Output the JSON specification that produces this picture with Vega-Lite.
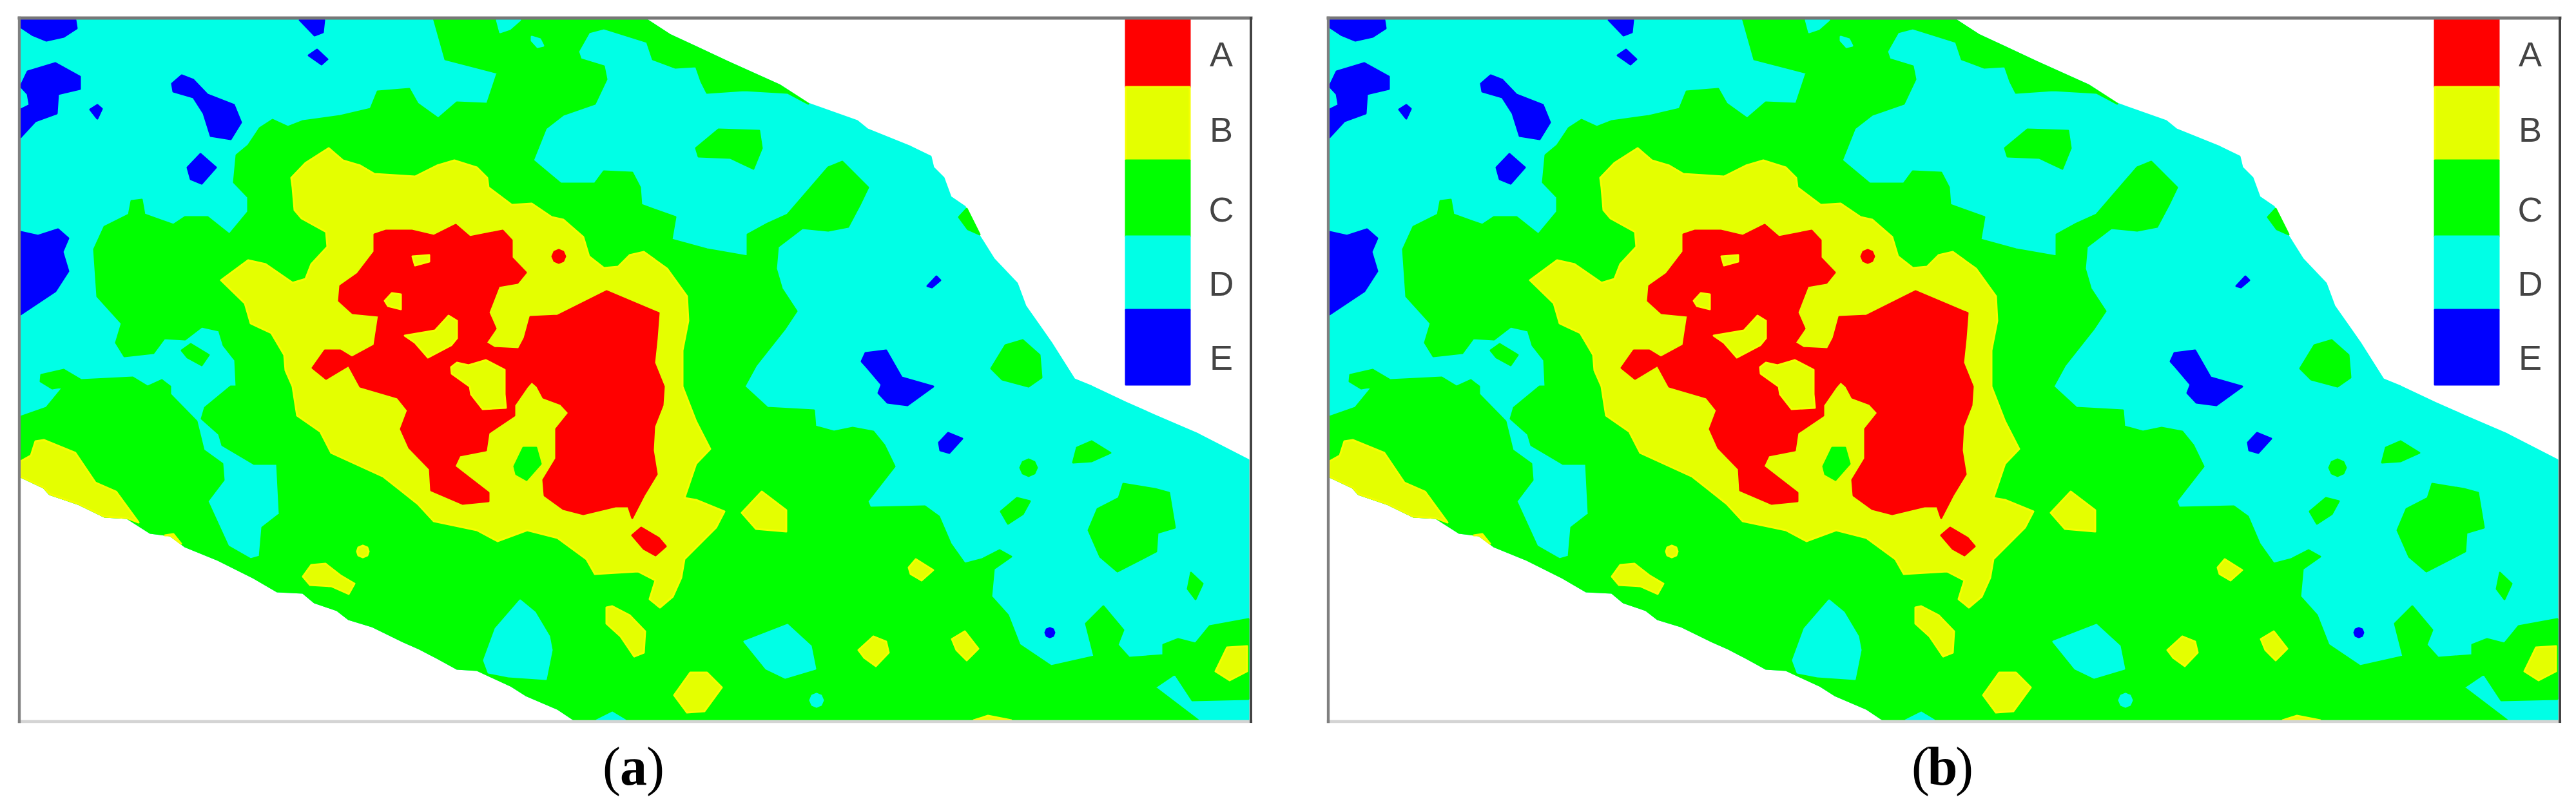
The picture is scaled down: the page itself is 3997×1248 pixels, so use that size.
{"$schema":"https://vega.github.io/schema/vega-lite/v6.json","background":"white","padding":0,"spacing":63,"config":{"view":{"stroke":null}},
"datasets":{
"extent":[{"type":"Feature","properties":{"cls":"outside"},"geometry":{"type":"Polygon","coordinates":[[[0,0],[1967,0],[1967,1248],[0,1248],[0,0]]]}}],
"regions":[
{"type":"Feature","properties":{"cls":"D"},"geometry":{"type":"Polygon","coordinates":[[[31,28],[998,28],[1038,54],[1079,73],[1128,96],[1208,132],[1253,161],[1329,188],[1345,201],[1412,228],[1443,243],[1447,260],[1463,276],[1474,306],[1496,321],[1519,367],[1541,402],[1577,440],[1590,475],[1630,532],[1666,589],[1693,600],[1746,625],[1791,645],[1858,674],[1936,714],[1936,1118],[891,1118],[864,1100],[815,1079],[793,1065],[739,1040],[708,1038],[677,1021],[650,1007],[625,996],[576,972],[540,961],[522,947],[487,935],[469,920],[429,918],[393,897],[335,868],[286,848],[263,831],[232,827],[196,804],[161,802],[120,782],[76,767],[67,757],[31,740],[31,28]]]}},
{"type":"Feature","properties":{"cls":"C"},"geometry":{"type":"Polygon","coordinates":[[[672,28],[998,28],[1038,54],[1079,73],[1128,96],[1208,132],[1253,161],[1221,144],[1154,140],[1096,144],[1087,126],[1079,103],[1047,105],[1012,92],[1003,65],[936,44],[913,50],[896,80],[900,92],[936,103],[940,123],[922,161],[873,178],[846,199],[826,249],[869,285],[922,285],[936,266],[980,268],[992,291],[994,318],[1047,337],[1041,372],[1096,387],[1159,398],[1159,364],[1190,347],[1221,333],[1284,260],[1306,251],[1346,291],[1333,318],[1315,352],[1284,358],[1244,354],[1206,383],[1203,417],[1212,448],[1235,483],[1217,510],[1172,567],[1154,600],[1190,633],[1262,637],[1264,662],[1293,670],[1322,664],[1354,670],[1371,691],[1387,724],[1345,778],[1349,788],[1434,786],[1456,802],[1474,844],[1496,875],[1523,868],[1550,854],[1568,864],[1541,883],[1537,926],[1563,955],[1581,1001],[1630,1034],[1697,1019],[1684,968],[1711,941],[1742,978],[1733,1001],[1751,1021],[1804,1017],[1804,1001],[1827,992],[1854,999],[1876,972],[1936,961],[1936,1085],[1849,1087],[1822,1046],[1791,1067],[1858,1118],[891,1118],[864,1100],[815,1079],[793,1065],[739,1040],[708,1038],[677,1021],[650,1007],[625,996],[576,972],[540,961],[522,947],[487,935],[469,920],[429,918],[393,897],[335,868],[286,848],[263,831],[232,827],[196,804],[161,802],[120,782],[76,767],[67,757],[31,740],[31,647],[71,633],[98,600],[80,603],[62,592],[63,582],[98,574],[125,590],[205,586],[228,600],[250,590],[263,600],[263,612],[304,654],[315,699],[344,720],[346,745],[321,778],[353,848],[388,868],[402,864],[406,819],[433,798],[429,720],[393,720],[344,691],[339,674],[312,650],[317,633],[357,600],[366,600],[364,559],[346,536],[339,513],[312,507],[286,527],[254,525],[237,548],[192,553],[179,532],[188,502],[150,460],[145,387],[161,352],[199,333],[203,312],[219,310],[223,333],[268,349],[286,337],[321,337],[355,364],[384,329],[384,306],[362,283],[366,241],[384,226],[402,199],[422,186],[446,197],[469,188],[527,180],[574,169],[585,142],[634,138],[647,161],[679,184],[708,159],[755,161],[771,113],[690,92],[672,28]]]}},
{"type":"Feature","properties":{"cls":"C"},"geometry":{"type":"Polygon","coordinates":[[[281,544],[295,534],[323,551],[312,567],[290,555],[281,544]]]}},
{"type":"Feature","properties":{"cls":"C"},"geometry":{"type":"Polygon","coordinates":[[[1079,230],[1114,201],[1177,203],[1181,230],[1168,262],[1132,245],[1083,243],[1079,230]]]}},
{"type":"Feature","properties":{"cls":"C"},"geometry":{"type":"Polygon","coordinates":[[[1487,337],[1499,324],[1519,364],[1501,356],[1487,337]]]}},
{"type":"Feature","properties":{"cls":"C"},"geometry":{"type":"Polygon","coordinates":[[[1537,572],[1559,536],[1586,528],[1612,551],[1615,586],[1595,600],[1554,589],[1537,572]]]}},
{"type":"Feature","properties":{"cls":"C"},"geometry":{"type":"Polygon","coordinates":[[[1664,718],[1670,695],[1693,685],[1722,703],[1693,716],[1664,718]]]}},
{"type":"Feature","properties":{"cls":"C"},"geometry":{"type":"Polygon","coordinates":[[[1595,713],[1604,717],[1608,726],[1604,735],[1595,739],[1586,735],[1582,726],[1586,717],[1595,713]]]}},
{"type":"Feature","properties":{"cls":"C"},"geometry":{"type":"Polygon","coordinates":[[[1552,794],[1577,773],[1597,778],[1586,798],[1563,813],[1552,794]]]}},
{"type":"Feature","properties":{"cls":"C"},"geometry":{"type":"Polygon","coordinates":[[[1688,823],[1702,790],[1735,773],[1742,751],[1791,759],[1813,765],[1822,819],[1795,827],[1793,856],[1733,887],[1706,864],[1688,823]]]}},
{"type":"Feature","properties":{"cls":"C"},"geometry":{"type":"Polygon","coordinates":[[[1847,889],[1865,906],[1854,930],[1842,914],[1847,889]]]}},
{"type":"Feature","properties":{"cls":"D"},"geometry":{"type":"Polygon","coordinates":[[[770,31],[806,31],[790,45],[775,50],[770,31]]]}},
{"type":"Feature","properties":{"cls":"D"},"geometry":{"type":"Polygon","coordinates":[[[824,57],[837,61],[842,71],[833,73],[824,63],[824,57]]]}},
{"type":"Feature","properties":{"cls":"D"},"geometry":{"type":"Polygon","coordinates":[[[806,932],[829,951],[851,988],[855,1009],[846,1054],[788,1050],[757,1044],[750,1025],[768,976],[806,932]]]}},
{"type":"Feature","properties":{"cls":"D"},"geometry":{"type":"Polygon","coordinates":[[[1154,996],[1221,970],[1257,1003],[1264,1038],[1217,1052],[1188,1038],[1154,996]]]}},
{"type":"Feature","properties":{"cls":"D"},"geometry":{"type":"Polygon","coordinates":[[[1266,1077],[1273,1080],[1276,1087],[1273,1094],[1266,1097],[1259,1094],[1256,1087],[1259,1080],[1266,1077]]]}},
{"type":"Feature","properties":{"cls":"D"},"geometry":{"type":"Polygon","coordinates":[[[925,1118],[949,1106],[969,1118],[925,1118]]]}},
{"type":"Feature","properties":{"cls":"E"},"geometry":{"type":"Polygon","coordinates":[[[31,31],[116,31],[118,44],[98,57],[71,63],[49,54],[31,42],[31,31]]]}},
{"type":"Feature","properties":{"cls":"E"},"geometry":{"type":"Polygon","coordinates":[[[42,111],[85,98],[123,119],[123,138],[89,146],[87,176],[54,188],[31,213],[31,170],[45,163],[42,146],[31,134],[42,111]]]}},
{"type":"Feature","properties":{"cls":"E"},"geometry":{"type":"Polygon","coordinates":[[[139,170],[150,163],[157,169],[150,184],[139,170]]]}},
{"type":"Feature","properties":{"cls":"E"},"geometry":{"type":"Polygon","coordinates":[[[266,130],[281,117],[299,124],[321,147],[362,163],[373,190],[357,216],[326,211],[315,176],[299,151],[268,142],[266,130]]]}},
{"type":"Feature","properties":{"cls":"E"},"geometry":{"type":"Polygon","coordinates":[[[290,260],[310,239],[334,260],[312,285],[295,278],[290,260]]]}},
{"type":"Feature","properties":{"cls":"E"},"geometry":{"type":"Polygon","coordinates":[[[464,31],[502,31],[500,50],[487,55],[464,31]]]}},
{"type":"Feature","properties":{"cls":"E"},"geometry":{"type":"Polygon","coordinates":[[[478,86],[491,77],[507,92],[498,100],[478,86]]]}},
{"type":"Feature","properties":{"cls":"E"},"geometry":{"type":"Polygon","coordinates":[[[31,360],[58,366],[89,356],[105,370],[96,391],[105,421],[85,452],[31,488],[31,360]]]}},
{"type":"Feature","properties":{"cls":"E"},"geometry":{"type":"Polygon","coordinates":[[[1438,444],[1452,429],[1458,435],[1445,446],[1438,444]]]}},
{"type":"Feature","properties":{"cls":"E"},"geometry":{"type":"Polygon","coordinates":[[[1336,561],[1342,548],[1374,544],[1398,586],[1447,600],[1407,629],[1376,625],[1362,610],[1367,597],[1345,571],[1336,561]]]}},
{"type":"Feature","properties":{"cls":"E"},"geometry":{"type":"Polygon","coordinates":[[[1456,687],[1470,672],[1492,681],[1472,703],[1458,699],[1456,687]]]}},
{"type":"Feature","properties":{"cls":"E"},"geometry":{"type":"Polygon","coordinates":[[[1628,975],[1633,977],[1635,982],[1633,987],[1628,989],[1623,987],[1621,982],[1623,977],[1628,975]]]}},
{"type":"Feature","properties":{"cls":"B"},"geometry":{"type":"Polygon","coordinates":[[[509,230],[531,249],[558,257],[580,270],[643,274],[677,257],[704,249],[739,260],[755,276],[757,291],[793,318],[824,316],[855,337],[873,341],[904,368],[913,398],[936,416],[958,414],[976,396],[998,391],[1034,417],[1065,460],[1067,498],[1058,544],[1058,600],[1079,654],[1101,697],[1079,720],[1061,773],[1079,776],[1123,794],[1110,819],[1061,868],[1056,897],[1043,926],[1023,943],[1007,930],[1016,901],[989,887],[922,891],[909,868],[864,835],[817,823],[771,840],[739,823],[672,809],[647,782],[594,740],[513,703],[496,670],[460,645],[453,600],[442,575],[440,551],[420,517],[388,502],[379,471],[342,435],[384,404],[411,410],[453,439],[473,433],[482,410],[507,383],[505,360],[467,339],[456,326],[453,291],[451,276],[473,253],[509,230]]]}},
{"type":"Feature","properties":{"cls":"C"},"geometry":{"type":"Polygon","coordinates":[[[797,724],[811,695],[831,695],[838,720],[816,745],[800,736],[797,724]]]}},
{"type":"Feature","properties":{"cls":"B"},"geometry":{"type":"Polygon","coordinates":[[[31,716],[47,707],[54,685],[67,683],[116,703],[147,749],[179,763],[214,811],[196,804],[161,802],[120,782],[76,767],[67,757],[31,740],[31,716]]]}},
{"type":"Feature","properties":{"cls":"B"},"geometry":{"type":"Polygon","coordinates":[[[255,831],[268,829],[280,844],[263,831],[255,831]]]}},
{"type":"Feature","properties":{"cls":"B"},"geometry":{"type":"Polygon","coordinates":[[[562,847],[569,850],[571,856],[569,862],[562,865],[555,862],[553,856],[555,850],[562,847]]]}},
{"type":"Feature","properties":{"cls":"B"},"geometry":{"type":"Polygon","coordinates":[[[469,895],[482,877],[504,875],[527,893],[549,906],[540,922],[513,910],[480,908],[469,895]]]}},
{"type":"Feature","properties":{"cls":"B"},"geometry":{"type":"Polygon","coordinates":[[[940,943],[949,941],[976,955],[1000,980],[998,1013],[983,1019],[962,988],[940,968],[940,943]]]}},
{"type":"Feature","properties":{"cls":"B"},"geometry":{"type":"Polygon","coordinates":[[[1045,1079],[1070,1044],[1096,1044],[1119,1067],[1092,1104],[1065,1106],[1045,1079]]]}},
{"type":"Feature","properties":{"cls":"B"},"geometry":{"type":"Polygon","coordinates":[[[1150,796],[1181,763],[1219,792],[1219,825],[1172,821],[1150,796]]]}},
{"type":"Feature","properties":{"cls":"B"},"geometry":{"type":"Polygon","coordinates":[[[1331,1009],[1354,988],[1374,996],[1378,1013],[1358,1034],[1340,1021],[1331,1009]]]}},
{"type":"Feature","properties":{"cls":"B"},"geometry":{"type":"Polygon","coordinates":[[[1476,992],[1496,980],[1517,1007],[1499,1025],[1483,1009],[1476,992]]]}},
{"type":"Feature","properties":{"cls":"B"},"geometry":{"type":"Polygon","coordinates":[[[1409,881],[1420,868],[1447,885],[1429,901],[1412,891],[1409,881]]]}},
{"type":"Feature","properties":{"cls":"B"},"geometry":{"type":"Polygon","coordinates":[[[1885,1042],[1903,1005],[1934,1003],[1934,1042],[1907,1056],[1885,1042]]]}},
{"type":"Feature","properties":{"cls":"B"},"geometry":{"type":"Polygon","coordinates":[[[1510,1118],[1532,1111],[1568,1118],[1510,1118]]]}},
{"type":"Feature","properties":{"cls":"A"},"geometry":{"type":"Polygon","coordinates":[[[580,364],[598,358],[638,358],[672,366],[706,349],[728,368],[779,358],[793,373],[793,400],[815,423],[802,439],[773,444],[757,485],[768,510],[753,532],[766,540],[804,542],[813,525],[822,492],[864,490],[940,452],[985,471],[1021,486],[1018,525],[1014,563],[1029,600],[1027,629],[1014,662],[1012,699],[1018,736],[998,769],[980,804],[974,786],[954,786],[904,798],[873,790],[844,769],[842,745],[862,712],[862,666],[882,641],[869,627],[842,617],[833,600],[824,592],[817,600],[797,629],[797,645],[757,672],[753,699],[712,707],[704,724],[757,765],[757,778],[717,782],[668,761],[666,728],[634,695],[621,666],[632,637],[616,617],[558,600],[540,567],[505,588],[484,571],[503,544],[527,544],[545,555],[580,536],[587,490],[546,486],[525,467],[527,444],[554,425],[580,391],[580,364]]]}},
{"type":"Feature","properties":{"cls":"B"},"geometry":{"type":"Polygon","coordinates":[[[627,521],[674,513],[695,490],[708,498],[708,525],[699,536],[663,555],[643,532],[627,521]]]}},
{"type":"Feature","properties":{"cls":"B"},"geometry":{"type":"Polygon","coordinates":[[[639,398],[665,396],[665,406],[643,412],[639,398]]]}},
{"type":"Feature","properties":{"cls":"B"},"geometry":{"type":"Polygon","coordinates":[[[596,467],[607,455],[621,457],[621,480],[601,475],[596,467]]]}},
{"type":"Feature","properties":{"cls":"B"},"geometry":{"type":"Polygon","coordinates":[[[699,570],[708,563],[726,567],[753,559],[782,574],[782,612],[784,633],[748,635],[730,612],[728,600],[700,580],[699,570]]]}},
{"type":"Feature","properties":{"cls":"A"},"geometry":{"type":"Polygon","coordinates":[[[866,388],[873,391],[876,398],[873,405],[866,408],[859,405],[856,398],[859,391],[866,388]]]}},
{"type":"Feature","properties":{"cls":"A"},"geometry":{"type":"Polygon","coordinates":[[[980,831],[994,819],[1021,835],[1032,848],[1016,862],[998,852],[980,831]]]}},
{"type":"Feature","properties":{"cls":"A"},"geometry":{"type":"Polygon","coordinates":[[[1746,28],[1845,28],[1845,135],[1746,135],[1746,28]]]}},
{"type":"Feature","properties":{"cls":"B"},"geometry":{"type":"Polygon","coordinates":[[[1746,135],[1845,135],[1845,249],[1746,249],[1746,135]]]}},
{"type":"Feature","properties":{"cls":"C"},"geometry":{"type":"Polygon","coordinates":[[[1746,249],[1845,249],[1845,367],[1746,367],[1746,249]]]}},
{"type":"Feature","properties":{"cls":"D"},"geometry":{"type":"Polygon","coordinates":[[[1746,367],[1845,367],[1845,481],[1746,481],[1746,367]]]}},
{"type":"Feature","properties":{"cls":"E"},"geometry":{"type":"Polygon","coordinates":[[[1746,481],[1845,481],[1845,597],[1746,597],[1746,481]]]}}
],
"frame":[
{"type":"Feature","properties":{"side":"top"},"geometry":{"type":"LineString","coordinates":[[29,28],[1940,28]]}},
{"type":"Feature","properties":{"side":"bottom"},"geometry":{"type":"LineString","coordinates":[[29,1120],[1940,1120]]}},
{"type":"Feature","properties":{"side":"left"},"geometry":{"type":"LineString","coordinates":[[29,28],[29,1120]]}},
{"type":"Feature","properties":{"side":"right"},"geometry":{"type":"LineString","coordinates":[[1940,28],[1940,1120]]}}
],
"labels":[{"label":"A","x":1894,"y":103},{"label":"B","x":1894,"y":220},{"label":"C","x":1894,"y":344},{"label":"D","x":1894,"y":459},{"label":"E","x":1894,"y":574}],
"captions":[{"panel":"a","label":"(","bold":"no","x":948,"y":1218},{"panel":"a","label":"a","bold":"yes","x":982,"y":1218},{"panel":"a","label":")","bold":"no","x":1016,"y":1218},{"panel":"b","label":"(","bold":"no","x":948,"y":1218},{"panel":"b","label":"b","bold":"yes","x":982,"y":1218},{"panel":"b","label":")","bold":"no","x":1016,"y":1218}]
},
"hconcat":[
{"width":1967,"height":1248,"projection":{"type":"identity"},"resolve":{"scale":{"stroke":"independent"}},"layer":[
{"data":{"name":"extent"},"mark":{"type":"geoshape","fill":"#ffffff","stroke":null},"encoding":{}},
{"data":{"name":"regions"},"mark":{"type":"geoshape","strokeWidth":3,"strokeJoin":"round"},"encoding":{"fill":{"field":"properties.cls","type":"nominal","legend":null,"scale":{"domain":["A","B","C","D","E"],"range":["#ff0000","#e4ff00","#00ff00","#00ffe6","#0000ff"]}},"stroke":{"field":"properties.cls","type":"nominal","legend":null,"scale":{"domain":["A","B","C","D","E"],"range":["#ff0000","#f4ff00","#00ff00","#00ffe6","#0000ff"]}}}},
{"data":{"name":"frame"},"mark":{"type":"geoshape","filled":false,"strokeCap":"square"},"encoding":{"stroke":{"field":"properties.side","type":"nominal","legend":null,"scale":{"domain":["top","bottom","left","right"],"range":["#777777","#d4d4d4","#808080","#444444"]}},"strokeWidth":{"field":"properties.side","type":"ordinal","legend":null,"scale":{"domain":["top","bottom","left","right"],"range":[5,4,6,7]}}}},
{"data":{"name":"labels"},"mark":{"type":"text","font":"Liberation Sans","fontSize":54,"color":"#444444","align":"center","baseline":"alphabetic"},"encoding":{"longitude":{"field":"x","type":"quantitative"},"latitude":{"field":"y","type":"quantitative"},"text":{"field":"label"}}},
{"data":{"name":"captions"},"transform":[{"filter":"datum.panel==='a'&&datum.bold==='no'"}],"mark":{"type":"text","font":"Liberation Serif","fontSize":84,"color":"#000000","align":"center","baseline":"alphabetic"},"encoding":{"longitude":{"field":"x","type":"quantitative"},"latitude":{"field":"y","type":"quantitative"},"text":{"field":"label"}}},
{"data":{"name":"captions"},"transform":[{"filter":"datum.panel==='a'&&datum.bold==='yes'"}],"mark":{"type":"text","font":"Liberation Serif","fontSize":84,"fontWeight":"bold","color":"#000000","align":"center","baseline":"alphabetic"},"encoding":{"longitude":{"field":"x","type":"quantitative"},"latitude":{"field":"y","type":"quantitative"},"text":{"field":"label"}}}
]},
{"width":1967,"height":1248,"projection":{"type":"identity"},"resolve":{"scale":{"stroke":"independent"}},"layer":[
{"data":{"name":"extent"},"mark":{"type":"geoshape","fill":"#ffffff","stroke":null},"encoding":{}},
{"data":{"name":"regions"},"mark":{"type":"geoshape","strokeWidth":3,"strokeJoin":"round"},"encoding":{"fill":{"field":"properties.cls","type":"nominal","legend":null,"scale":{"domain":["A","B","C","D","E"],"range":["#ff0000","#e4ff00","#00ff00","#00ffe6","#0000ff"]}},"stroke":{"field":"properties.cls","type":"nominal","legend":null,"scale":{"domain":["A","B","C","D","E"],"range":["#ff0000","#f4ff00","#00ff00","#00ffe6","#0000ff"]}}}},
{"data":{"name":"frame"},"mark":{"type":"geoshape","filled":false,"strokeCap":"square"},"encoding":{"stroke":{"field":"properties.side","type":"nominal","legend":null,"scale":{"domain":["top","bottom","left","right"],"range":["#777777","#d4d4d4","#808080","#444444"]}},"strokeWidth":{"field":"properties.side","type":"ordinal","legend":null,"scale":{"domain":["top","bottom","left","right"],"range":[5,4,6,7]}}}},
{"data":{"name":"labels"},"mark":{"type":"text","font":"Liberation Sans","fontSize":54,"color":"#444444","align":"center","baseline":"alphabetic"},"encoding":{"longitude":{"field":"x","type":"quantitative"},"latitude":{"field":"y","type":"quantitative"},"text":{"field":"label"}}},
{"data":{"name":"captions"},"transform":[{"filter":"datum.panel==='b'&&datum.bold==='no'"}],"mark":{"type":"text","font":"Liberation Serif","fontSize":84,"color":"#000000","align":"center","baseline":"alphabetic"},"encoding":{"longitude":{"field":"x","type":"quantitative"},"latitude":{"field":"y","type":"quantitative"},"text":{"field":"label"}}},
{"data":{"name":"captions"},"transform":[{"filter":"datum.panel==='b'&&datum.bold==='yes'"}],"mark":{"type":"text","font":"Liberation Serif","fontSize":84,"fontWeight":"bold","color":"#000000","align":"center","baseline":"alphabetic"},"encoding":{"longitude":{"field":"x","type":"quantitative"},"latitude":{"field":"y","type":"quantitative"},"text":{"field":"label"}}}
]}
]}
